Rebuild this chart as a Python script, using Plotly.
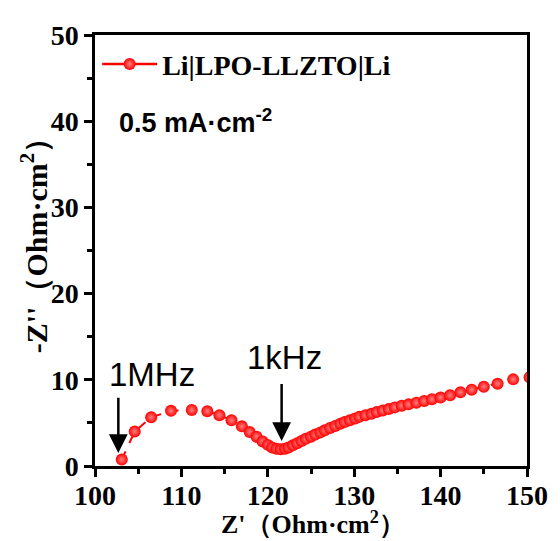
import plotly.graph_objects as go

# Data (Z' vs -Z'')
z_real = [103.1, 104.6, 106.5, 108.8, 111.2, 113.0, 114.4, 115.8, 117.0, 117.9,
          118.7, 119.4, 120.0, 120.5, 121.0, 121.5, 122.0, 122.4, 122.9, 123.4,
          123.9, 124.4, 125.0, 125.5, 126.1, 126.6, 127.2, 127.8, 128.4, 128.9,
          129.5, 130.1, 130.6, 131.3, 132.0, 132.6, 133.3, 134.0, 134.7, 135.5,
          136.3, 137.2, 138.1, 139.0, 140.0, 141.1, 142.3, 143.6, 145.0, 146.6,
          148.4, 150.3]
z_imag = [0.75, 4.0, 5.65, 6.4, 6.5, 6.35, 5.9, 5.3, 4.6, 3.95,
          3.4, 2.85, 2.45, 2.15, 2.0, 1.95, 2.0, 2.15, 2.4, 2.65,
          2.9, 3.15, 3.4, 3.65, 3.9, 4.15, 4.4, 4.65, 4.9, 5.1,
          5.3, 5.5, 5.7, 5.9, 6.05, 6.25, 6.45, 6.6, 6.8, 7.0,
          7.15, 7.35, 7.55, 7.75, 7.95, 8.2, 8.55, 8.85, 9.2, 9.55,
          10.05, 10.3]
series_name = "Li|LPO-LLZTO|Li"
x_ticks = [100, 110, 120, 130, 140, 150]
y_ticks = [0, 10, 20, 30, 40, 50]
freq_labels = ["1MHz", "1kHz"]
freq_text_pos = [(106.6, 10.6), (121.9, 12.6)]
freq_arrow_tail = [(102.7, 8.1), (121.6, 9.7)]
freq_arrow_tip = [(102.7, 1.5), (121.6, 2.9)]

RED = "#ff0000"
MARKER = dict(size=12, color=RED, gradient=dict(type="radial", color="#ff8080"), line=dict(width=0))
fig = go.Figure()
fig.add_trace(go.Scatter(
    x=z_real, y=z_imag, mode="lines+markers", name=series_name, showlegend=False,
    line=dict(color=RED, width=2, dash="dash"), marker=MARKER,
))
# legend entry (solid line, as drawn in the reference legend)
fig.add_trace(go.Scatter(
    x=[None], y=[None], mode="lines+markers", name=series_name,
    line=dict(color=RED, width=2.5), marker=MARKER,
))

serif = "Liberation Serif, Times New Roman, serif"
sans = "Liberation Sans, Arial, sans-serif"
axis_common = dict(
    showline=True, linecolor="black", linewidth=2.5, mirror=True,
    ticks="outside", ticklen=8, tickwidth=2.5, tickcolor="black",
    showgrid=False, zeroline=False,
    tickfont=dict(family=serif, size=28, color="black", weight="bold"),
)
fig.update_xaxes(range=[100, 150], tickvals=x_ticks, ticklabelstandoff=-5,
                 minor=dict(ticks="outside", ticklen=5, tickwidth=2.5, dtick=5, tick0=100, tickcolor="black"),
                 **axis_common)
fig.update_yaxes(range=[0, 50], tickvals=y_ticks,
                 minor=dict(ticks="outside", ticklen=5, tickwidth=2.5, dtick=5, tick0=0, tickcolor="black"),
                 **axis_common)

annotations = []
for lab, (tx, ty) in zip(freq_labels, freq_text_pos):
    annotations.append(dict(x=tx, y=ty, xref="x", yref="y", text=lab, showarrow=False,
                            font=dict(family=sans, size=33, color="black")))
for (ax_, ay_), (hx, hy) in zip(freq_arrow_tail, freq_arrow_tip):
    annotations.append(dict(x=hx, y=hy, ax=ax_, ay=ay_, xref="x", yref="y", axref="x", ayref="y",
                            text="", showarrow=True, arrowhead=2, arrowsize=1.5, arrowwidth=2.5,
                            arrowcolor="black"))
annotations.append(dict(x=0.05, y=0.80, xref="paper", yref="paper", xanchor="left", yanchor="middle",
                        text="0.5 mA·cm<sup>-2</sup>", showarrow=False,
                        font=dict(family=sans, size=27, color="black", weight="bold")))
annotations.append(dict(x=0.505, y=-0.171, xref="paper", yref="paper", xanchor="center", yanchor="bottom",
                        text="Z'（Ohm·cm<sup>2</sup>）", showarrow=False, height=30, valign="middle",
                        font=dict(family=serif, size=26, color="black", weight="bold")))
annotations.append(dict(x=-0.142, y=0.53, xref="paper", yref="paper", xanchor="center", yanchor="middle",
                        text="-Z''（Ohm·cm<sup>2</sup>）", showarrow=False, textangle=-90,
                        font=dict(family=serif, size=30, color="black", weight="bold")))

# page body has an 8px default margin, so the figure is sized/offset to compensate
fig.update_layout(
    width=552, height=533,
    margin=dict(l=87, r=27, t=23, b=75),
    paper_bgcolor="white", plot_bgcolor="white",
    showlegend=True,
    legend=dict(x=0.005, y=0.99, xanchor="left", yanchor="top", bgcolor="rgba(0,0,0,0)",
                itemwidth=55,
                font=dict(family=serif, size=28, color="black", weight="bold")),
    annotations=annotations,
)
fig.write_html("out.html")
